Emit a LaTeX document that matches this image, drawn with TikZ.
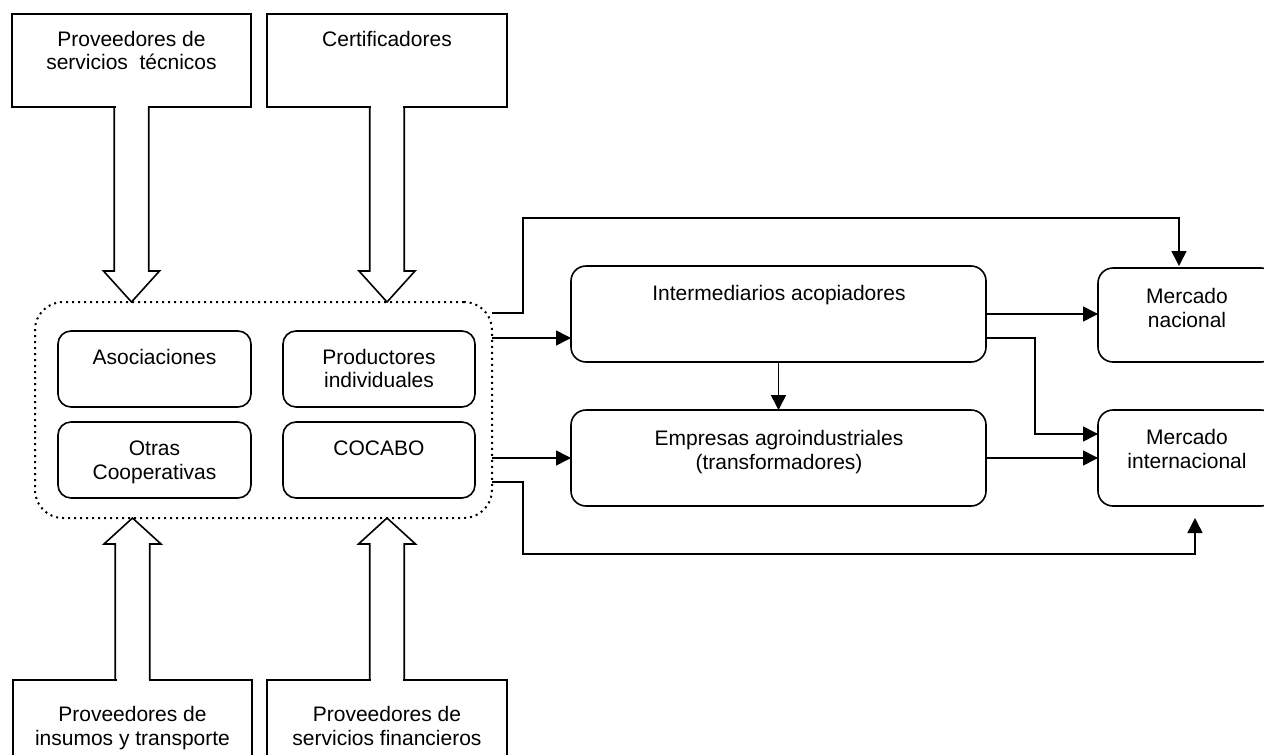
\documentclass[tikz,border=0pt]{standalone}
\usepackage{fontspec}
\setmainfont{Liberation Sans}
\usetikzlibrary{arrows.meta,calc}
\begin{document}
\begin{tikzpicture}[x=1pt,y=-1pt,
  line width=1.6pt,
  every node/.style={inner sep=0pt, outer sep=0pt},
  txt/.style={anchor=base, font=\fontsize{21}{24}\selectfont},
  sqbox/.style={draw, rectangle, anchor=north west},
  rbox/.style={draw, rectangle, rounded corners=13pt, anchor=north west},
  wbox/.style={draw, rectangle, rounded corners=15pt, anchor=north west},
  groupbox/.style={draw, rectangle, rounded corners=28pt, dash pattern=on 2pt off 4pt, line width=2pt, anchor=north west},
  arr/.style={-{Triangle[length=15pt,width=15pt]}},
]
\useasboundingbox (0,0) rectangle (1264,755);

% supplier boxes
\node[sqbox, minimum width=239pt, minimum height=93pt] (pst) at (12,14) {};
\node[sqbox, minimum width=240pt, minimum height=93pt] (cert) at (267,14) {};
\node[sqbox, minimum width=239pt, minimum height=110pt] (pit) at (13,680) {};
\node[sqbox, minimum width=240pt, minimum height=110pt] (psf) at (267,680) {};

% producers group
\node[groupbox, minimum width=457pt, minimum height=216pt] (cont) at (35,302) {};
\node[rbox, minimum width=193pt, minimum height=76pt] (asoc) at (58,331) {};
\node[rbox, minimum width=192pt, minimum height=76pt] (prod) at (283,331) {};
\node[rbox, minimum width=193pt, minimum height=76pt] (otras) at (58,422) {};
\node[rbox, minimum width=192pt, minimum height=76pt] (cocabo) at (283,422) {};

% chain boxes
\node[wbox, minimum width=415pt, minimum height=96pt] (inter) at (571,266) {};
\node[wbox, minimum width=415pt, minimum height=96pt] (emp) at (571,410) {};
\node[wbox, minimum width=178pt, minimum height=94pt] (mnac) at (1098,268) {};
\node[wbox, minimum width=178pt, minimum height=96pt] (mint) at (1098,410) {};

% labels
\node[txt] (pst-a) at (131.5,46) {Proveedores de};
\node[txt] (pst-b) at (131.5,69) {servicios\ \ técnicos};
\node[txt] (cert-a) at (387,46) {Certificadores};
\node[txt] (asoc-a) at (154.5,364) {Asociaciones};
\node[txt] (prod-a) at (379,364) {Productores};
\node[txt] (prod-b) at (379,387) {individuales};
\node[txt] (otras-a) at (154.5,455) {Otras};
\node[txt] (otras-b) at (154.5,479) {Cooperativas};
\node[txt] (cocabo-a) at (379,455) {COCABO};
\node[txt] (inter-a) at (779,300) {Intermediarios acopiadores};
\node[txt] (emp-a) at (779,445) {Empresas agroindustriales};
\node[txt] (emp-b) at (779,469) {(transformadores)};
\node[txt] (mnac-a) at (1187,303) {Mercado};
\node[txt] (mnac-b) at (1187,327) {nacional};
\node[txt] (mint-a) at (1187,444) {Mercado};
\node[txt] (mint-b) at (1187,468) {internacional};
\node[txt] (pit-a) at (132.5,721) {Proveedores de};
\node[txt] (pit-b) at (132.5,745) {insumos y transporte};
\node[txt] (psf-a) at (387,721) {Proveedores de};
\node[txt] (psf-b) at (387,745) {servicios financieros};

% hollow block arrows joined to the supplier boxes
\begin{scope}[shift={(pst.south)}]
  \fill[white] (-16,-1.5) rectangle (16,1.5);
  \draw (-17.25,0) -- (-17.25,164) -- (-28,164) -- (0,195) -- (28,164) -- (17.25,164) -- (17.25,0);
\end{scope}
\begin{scope}[shift={(cert.south)}]
  \fill[white] (-16,-1.5) rectangle (16,1.5);
  \draw (-17.25,0) -- (-17.25,164) -- (-28,164) -- (0,195) -- (28,164) -- (17.25,164) -- (17.25,0);
\end{scope}
\begin{scope}[shift={(pit.north)}]
  \fill[white] (-16,-1.5) rectangle (16,1.5);
  \draw (-17.25,0) -- (-17.25,-136) -- (-28.5,-136) -- (0,-162) -- (28.5,-136) -- (17.25,-136) -- (17.25,0);
\end{scope}
\begin{scope}[shift={(psf.north)}]
  \fill[white] (-16,-1.5) rectangle (16,1.5);
  \draw (-17.25,0) -- (-17.25,-136) -- (-28.5,-136) -- (0,-162) -- (28.5,-136) -- (17.25,-136) -- (17.25,0);
\end{scope}

% flows
\coordinate (mint-low) at (1195,518);
\draw[arr, shorten >=2pt] (cont.east |- 0,313) -- (523,313) -- (523,218) -- (1179,218) -- (1179,0 |- mnac.north);
\draw[arr] (cont.east |- 0,338) -- (inter.west |- 0,338);
\draw[arr] (cont.east |- emp.west) -- (emp.west);
\draw[arr] (cont.east |- 0,482) -- (523,482) -- (523,554) -- (1195,554) -- (mint-low);
\draw[arr] (inter.east |- 0,314) -- (mnac.west |- 0,314);
\draw[arr] (inter.east |- 0,338) -- (1035,338) -- (1035,434) -- (mint.west |- 0,434);
\draw[arr] (inter.south) -- (emp.north);
\draw[arr] (emp.east) -- (mint.west |- emp.east);
\end{tikzpicture}
\end{document}
